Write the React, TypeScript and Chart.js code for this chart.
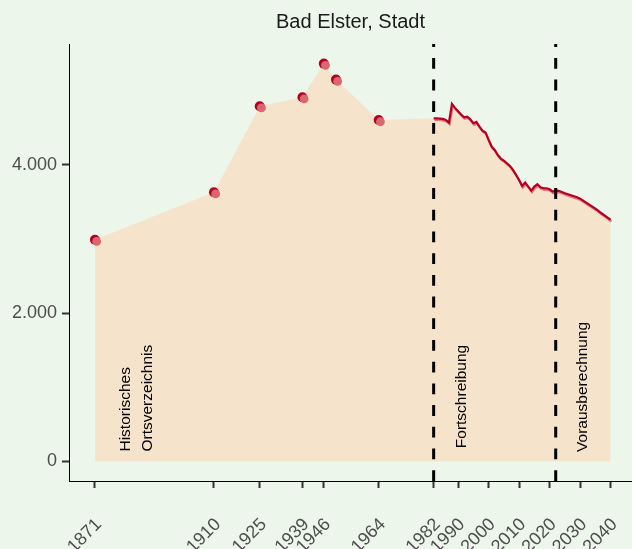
import React, { useEffect, useRef } from 'react';
import { Chart, registerables } from 'chart.js';

Chart.register(...registerables);

const TITLE = 'Bad Elster, Stadt';
const FONT = '"Liberation Sans", Arial, Helvetica, sans-serif';

const histYears = [1871, 1910, 1925, 1939, 1946, 1950, 1964];
const histValues = [2990, 3632, 4793, 4914, 5368, 5152, 4606];

const annualYears = [
  1982, 1983, 1984, 1985, 1986, 1987, 1988, 1989, 1990, 1991,
  1992, 1993, 1994, 1995, 1996, 1997, 1998, 1999, 2000, 2001,
  2002, 2003, 2004, 2005, 2006, 2007, 2008, 2009, 2010, 2011,
  2012, 2013, 2014, 2015, 2016, 2017, 2018, 2019, 2020, 2021,
  2022, 2023, 2024, 2025, 2026, 2027, 2028, 2029, 2030, 2031,
  2032, 2033, 2034, 2035, 2036, 2037, 2038, 2039, 2040,
];
const annualValues = [
  4630, 4630, 4626, 4621, 4608, 4572, 4824, 4770, 4725, 4680,
  4644, 4653, 4617, 4563, 4581, 4518, 4464, 4437, 4338, 4248,
  4203, 4135, 4086, 4059, 4023, 3987, 3933, 3865, 3797, 3716,
  3762, 3708, 3653, 3708, 3739, 3698, 3685, 3685, 3671, 3640,
  3653, 3649, 3635, 3617, 3604, 3590, 3577, 3563, 3545, 3518,
  3491, 3464, 3437, 3410, 3379, 3347, 3320, 3289, 3257,
];

const xTickYears = [1871, 1910, 1925, 1939, 1946, 1964, 1982, 1990, 2000, 2010, 2020, 2030, 2040];
const yTickValues = [0, 2000, 4000];
const breakYears = [1982, 2022];

const noteTexts = [['Historisches', 'Ortsverzeichnis'], ['Fortschreibung'], ['Vorausberechnung']];
const noteYears = [1884.8, 1991.1, 2030.8];
const noteValues = [130, 175, 125];

const fmtDe = (v: number) => String(Math.round(v)).replace(/\B(?=(\d{3})+(?!\d))/g, '.');

const shiftPlugin = {
  id: 'shiftPlugin',
  beforeDatasetDraw(chart: any, args: any) {
    const s = chart.data.datasets[args.index].shift;
    if (s) {
      chart.ctx.save();
      chart.ctx.translate(s[0], s[1]);
    }
  },
  afterDatasetDraw(chart: any, args: any) {
    const s = chart.data.datasets[args.index].shift;
    if (s) chart.ctx.restore();
  },
};

const overlayPlugin = {
  id: 'overlayPlugin',
  afterDatasetsDraw(chart: any) {
    const { ctx, chartArea, scales } = chart;
    const xs = scales.x;
    const ys = scales.y;
    ctx.save();
    ctx.strokeStyle = '#000000';
    ctx.lineWidth = 3;
    ctx.lineCap = 'butt';
    ctx.setLineDash([10.8, 10.9]);
    breakYears.forEach((yr) => {
      const x = xs.getPixelForValue(yr);
      ctx.beginPath();
      ctx.moveTo(x, chartArea.bottom);
      ctx.lineTo(x, chartArea.top);
      ctx.stroke();
    });
    ctx.restore();

    ctx.save();
    ctx.font = `15.5px ${FONT}`;
    ctx.fillStyle = '#000000';
    ctx.textAlign = 'left';
    ctx.textBaseline = 'middle';
    noteTexts.forEach((lines, i) => {
      const cx = xs.getPixelForValue(noteYears[i]);
      const y = ys.getPixelForValue(noteValues[i]);
      const n = lines.length;
      const lh = 22.2;
      lines.forEach((t, j) => {
        const x = cx + (j - (n - 1) / 2) * lh;
        ctx.save();
        ctx.translate(x, y);
        ctx.rotate(-Math.PI / 2);
        ctx.fillText(t, 0, 0);
        ctx.restore();
      });
    });
    ctx.restore();
  },
  afterDraw(chart: any) {
    const { ctx, chartArea } = chart;
    ctx.save();
    ctx.font = `20px ${FONT}`;
    ctx.fillStyle = '#1A1A1A';
    ctx.textAlign = 'center';
    ctx.textBaseline = 'alphabetic';
    ctx.fillText(TITLE, (chartArea.left + chartArea.right) / 2, 28);
    ctx.restore();
  },
};

export default function App() {
  const ref = useRef<HTMLCanvasElement | null>(null);

  useEffect(() => {
    if (!ref.current) return;
    const histPts = histYears.map((x, i) => ({ x, y: histValues[i] }));
    const annualPts = annualYears.map((x, i) => ({ x, y: annualValues[i] }));
    const allPts = [...histPts, ...annualPts];

    const tickGrid = {
      display: true,
      drawOnChartArea: false,
      drawTicks: true,
      tickLength: 7,
      tickWidth: 2,
      tickColor: '#333333',
    };

    const chart = new Chart(ref.current, {
      type: 'line',
      data: {
        datasets: [
          {
            data: allPts,
            fill: 'origin',
            backgroundColor: '#F6E3CB',
            borderColor: 'transparent',
            borderWidth: 0,
            pointRadius: 0,
            tension: 0,
            order: 10,
          } as any,
          {
            data: annualPts,
            fill: false,
            borderColor: 'rgba(222,108,118,0.9)',
            borderWidth: 2.2,
            pointRadius: 0,
            tension: 0,
            order: 6,
            shift: [0.8, 1.6],
          } as any,
          {
            data: annualPts,
            fill: false,
            borderColor: '#B40022',
            borderWidth: 2.2,
            pointRadius: 0,
            tension: 0,
            order: 5,
          } as any,
          {
            data: histPts,
            showLine: false,
            fill: false,
            pointRadius: 5,
            pointBorderWidth: 0,
            pointBackgroundColor: '#B40022',
            order: 3,
          } as any,
          {
            data: histPts,
            showLine: false,
            fill: false,
            pointRadius: 4.4,
            pointBorderWidth: 0,
            pointBackgroundColor: '#DA6670',
            order: 2,
            shift: [1.7, 1.7],
          } as any,
        ],
      },
      options: {
        animation: false,
        responsive: false,
        devicePixelRatio: 1,
        events: [],
        layout: { autoPadding: false, padding: { top: 44, left: 0, right: 0, bottom: 0 } },
        plugins: {
          legend: { display: false },
          tooltip: { enabled: false },
          title: { display: false },
        },
        scales: {
          x: {
            type: 'linear',
            min: 1862.5,
            max: 2047,
            afterBuildTicks: (s: any) => {
              s.ticks = xTickYears.map((v) => ({ value: v }));
            },
            afterFit: (s: any) => {
              s.height = 68;
              s.paddingLeft = 0;
              s.paddingRight = 0;
            },
            grid: tickGrid,
            border: { display: true, color: '#000000', width: 1 },
            ticks: {
              autoSkip: false,
              minRotation: 45,
              maxRotation: 45,
              padding: 26,
              labelOffset: 4,
              color: '#4D4D4D',
              font: { size: 18, family: FONT },
              callback: (v: any) => String(v),
            },
          },
          y: {
            type: 'linear',
            min: -268,
            max: 5633,
            afterBuildTicks: (s: any) => {
              s.ticks = yTickValues.map((v) => ({ value: v }));
            },
            afterFit: (s: any) => {
              s.width = 69;
              s.paddingTop = 0;
              s.paddingBottom = 0;
            },
            grid: tickGrid,
            border: { display: true, color: '#000000', width: 1 },
            ticks: {
              padding: 5,
              color: '#4D4D4D',
              font: { size: 18, family: FONT },
              callback: (v: any) => fmtDe(Number(v)),
            },
          },
        },
      } as any,
      plugins: [shiftPlugin, overlayPlugin],
    });
    return () => chart.destroy();
  }, []);

  return (
    <div
      style={{
        position: 'absolute',
        left: 0,
        top: 0,
        width: 632,
        height: 549,
        background: '#EDF6EB',
        overflow: 'hidden',
      }}
    >
      <canvas ref={ref} width={632} height={549} style={{ display: 'block' }} />
    </div>
  );
}
